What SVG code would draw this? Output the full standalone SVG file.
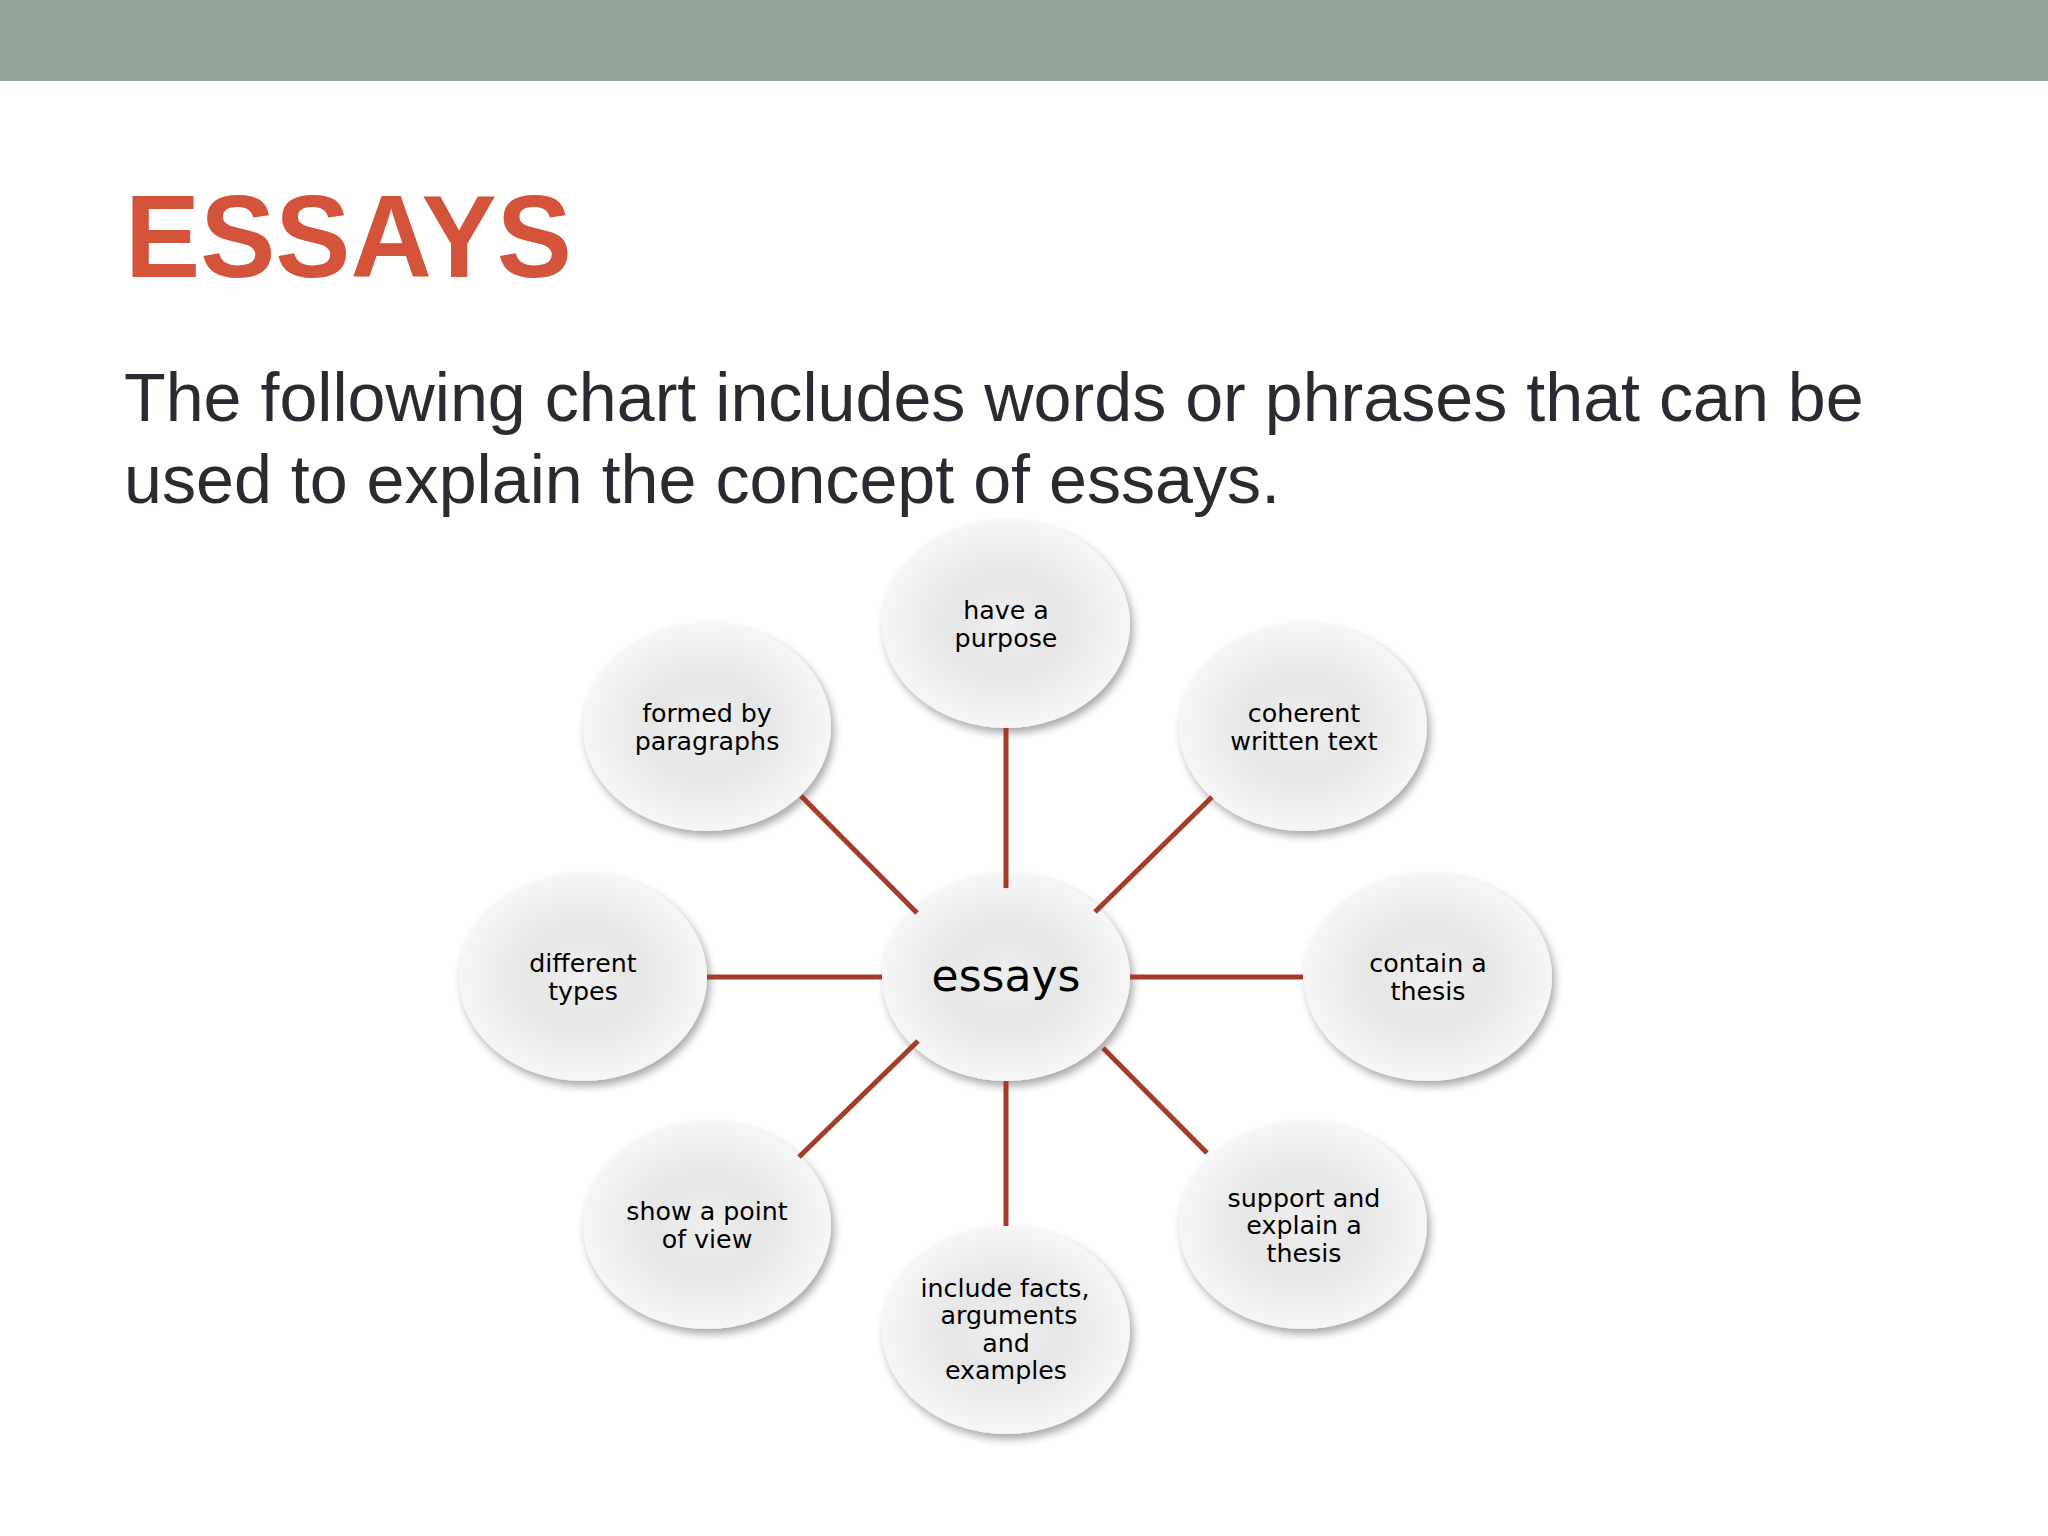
<svg xmlns="http://www.w3.org/2000/svg" width="2048" height="1536" viewBox="0 0 2048 1536">
<defs>
<radialGradient id="bubble" cx="0.5" cy="0.5" r="0.5">
<stop offset="0" stop-color="#EFEFEF"/>
<stop offset="0.45" stop-color="#E6E6E6"/>
<stop offset="0.85" stop-color="#F1F1F1"/>
<stop offset="1" stop-color="#F6F6F6"/>
</radialGradient>
<filter id="shadow" x="-20%" y="-20%" width="150%" height="150%">
<feDropShadow dx="3" dy="5" stdDeviation="4" flood-color="#000" flood-opacity="0.35"/>
</filter>
</defs>
<style>
.bub{fill:url(#bubble);filter:url(#shadow);}
.lbl{font-family:"DejaVu Sans",Verdana,sans-serif;font-size:25.3px;fill:#000;text-anchor:middle;}
.ctr{font-family:"DejaVu Sans",Verdana,sans-serif;font-size:44px;fill:#000;text-anchor:middle;}
.conn{stroke:#A63A2B;stroke-width:5;fill:none;}
</style>
<rect x="0" y="0" width="2048" height="81" fill="#92A399"/>
<text x="125" y="277" font-family="Liberation Sans, Arial, sans-serif" font-weight="bold" font-size="116" fill="#D4533B" textLength="447" lengthAdjust="spacingAndGlyphs">ESSAYS</text>
<g font-family="Liberation Sans, Arial, sans-serif" font-size="68.2" fill="#2A2A33">
<text x="124" y="421">The following chart includes words or phrases that can be</text>
<text x="124" y="503">used to explain the concept of essays.</text>
</g>
<g id="node-center"><ellipse class="bub" cx="1006" cy="977" rx="124" ry="104"/><text class="ctr" x="1006" y="991">essays</text></g>
<g id="node-purpose"><ellipse class="bub" cx="1006" cy="624" rx="124" ry="104"/><text class="lbl" x="1006" y="619">have a</text><text class="lbl" x="1006" y="647">purpose</text></g>
<g id="node-coherent"><ellipse class="bub" cx="1303" cy="727" rx="124" ry="104"/><text class="lbl" x="1304" y="722">coherent</text><text class="lbl" x="1304" y="750">written text</text></g>
<g id="node-thesis"><ellipse class="bub" cx="1428" cy="977" rx="124" ry="104"/><text class="lbl" x="1428" y="972">contain a</text><text class="lbl" x="1428" y="1000">thesis</text></g>
<g id="node-support"><ellipse class="bub" cx="1303" cy="1225" rx="124" ry="104"/><text class="lbl" x="1304" y="1207">support and</text><text class="lbl" x="1304" y="1234">explain a</text><text class="lbl" x="1304" y="1262">thesis</text></g>
<g id="node-include"><ellipse class="bub" cx="1006" cy="1330" rx="124" ry="104"/><text class="lbl" x="1005" y="1297">include facts,</text><text class="lbl" x="1009" y="1324">arguments</text><text class="lbl" x="1006" y="1352">and</text><text class="lbl" x="1006" y="1379">examples</text></g>
<g id="node-pointofview"><ellipse class="bub" cx="707" cy="1225" rx="124" ry="104"/><text class="lbl" x="707" y="1220">show a point</text><text class="lbl" x="707" y="1248">of view</text></g>
<g id="node-types"><ellipse class="bub" cx="583" cy="977" rx="124" ry="104"/><text class="lbl" x="583" y="972">different</text><text class="lbl" x="583" y="1000">types</text></g>
<g id="node-paragraphs"><ellipse class="bub" cx="707" cy="727" rx="124" ry="104"/><text class="lbl" x="707" y="722">formed by</text><text class="lbl" x="707" y="750">paragraphs</text></g>
<g id="connectors" class="conn">
<line x1="1006" y1="728" x2="1006" y2="888"/>
<line x1="1006" y1="1081" x2="1006" y2="1226"/>
<line x1="707" y1="977" x2="882" y2="977"/>
<line x1="1130" y1="977" x2="1303" y2="977"/>
<line x1="801" y1="796" x2="917" y2="913"/>
<line x1="1212" y1="797" x2="1095" y2="912"/>
<line x1="918" y1="1041" x2="799" y2="1157"/>
<line x1="1103" y1="1048" x2="1207" y2="1153"/>
</g>
</svg>
